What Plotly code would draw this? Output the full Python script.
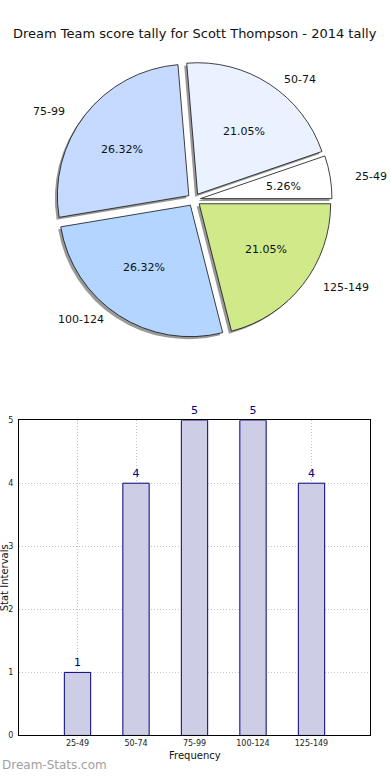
import math
import plotly.graph_objects as go

# ---- data ----
categories = ["25-49", "50-74", "75-99", "100-124", "125-149"]
counts = [1, 4, 5, 5, 4]
pie_colors = ["#ffffff", "#eaf1ff", "#c6d9ff", "#b3d5ff", "#d0ea8a"]
title_text = "Dream Team score tally for Scott Thompson - 2014 tally"

W, H = 390, 780
FONT = "DejaVu Sans"

def px(x):
    return x / W

def py(y):
    return 1 - y / H

fig = go.Figure()

# ---- pie geometry (pixels) ----
cx, cy = 194, 198
r = 133
explode = 0.05
half = r * (1 + explode)
total = sum(counts)
# plotly (counterclockwise): first slice's leading edge sits at `rotation`
rot = 90 - 360.0 * counts[0] / total

def dom(dx=0.0, dy=0.0):
    return dict(x=[px(cx - half + dx), px(cx + half + dx)],
                y=[py(cy + half + dy), py(cy - half + dy)])

# shadow
fig.add_trace(go.Pie(
    labels=categories, values=counts, sort=False, direction="counterclockwise",
    rotation=rot, pull=[explode] * len(counts), domain=dom(-2.5, 2.5),
    marker=dict(colors=["rgba(70,70,70,0.55)"] * len(counts), line=dict(width=0)),
    textinfo="none", hoverinfo="skip", showlegend=False,
))
# main pie
fig.add_trace(go.Pie(
    labels=categories, values=counts, sort=False, direction="counterclockwise",
    rotation=rot, pull=[explode] * len(counts), domain=dom(),
    marker=dict(colors=pie_colors, line=dict(color="#111111", width=0.8)),
    textinfo="none", showlegend=False,
))

# labels & percentages (matplotlib-style placement)
rx, ry = 140, 126
start = 0.0
annotations = [dict(
    x=px(195), y=py(30), xref="paper", yref="paper", text=title_text,
    showarrow=False, xanchor="center", yanchor="middle",
    font=dict(family=FONT, size=13, color="#111111"))]
for lab, v in zip(categories, counts):
    ang = 360.0 * v / total
    mid = math.radians(start + ang / 2)
    c, s = math.cos(mid), math.sin(mid)
    lx = cx + (explode + 1.1) * rx * c
    ly = cy - (explode + 1.1) * ry * s
    annotations.append(dict(
        x=px(lx), y=py(ly), xref="paper", yref="paper", text=lab, showarrow=False,
        xanchor="left" if c > 0 else "right", yanchor="middle",
        font=dict(family=FONT, size=11, color="#111111")))
    tx = cx + (explode + 0.6) * rx * c
    ty = cy - (explode + 0.6) * ry * s
    annotations.append(dict(
        x=px(tx), y=py(ty), xref="paper", yref="paper",
        text="%.2f%%" % (100.0 * v / total), showarrow=False,
        xanchor="center", yanchor="middle",
        font=dict(family=FONT, size=11, color="#111111")))
    start += ang

# ---- bar chart ----
fig.add_trace(go.Bar(
    x=categories, y=counts, width=0.45, xaxis="x", yaxis="y",
    marker=dict(color="#cdcde6", line=dict(color="#000080", width=1)),
    text=counts, textposition="outside", cliponaxis=False,
    textfont=dict(family=FONT, size=11, color="#000080"),
    showlegend=False, hoverinfo="x+y",
))

axis_common = dict(
    showline=True, mirror=True, linecolor="#000000", linewidth=1,
    showgrid=True, gridcolor="#c4c4c4", griddash="1px,2px", gridwidth=1,
    layer="above traces", zeroline=False,
    tickfont=dict(family=FONT, size=8, color="#222222"),
    ticks="", fixedrange=True,
)

annotations += [
    dict(x=px(195), y=py(760), xref="paper", yref="paper", text="Frequency",
         showarrow=False, xanchor="center", yanchor="middle",
         font=dict(family=FONT, size=10, color="#111111")),
    dict(x=px(4), y=py(581), xref="paper", yref="paper", text="Stat Intervals",
         showarrow=False, xanchor="center", yanchor="middle", textangle=-90,
         font=dict(family=FONT, size=10, color="#111111")),
    dict(x=px(0), y=py(770), xref="paper", yref="paper", text="Dream-Stats.com",
         showarrow=False, xanchor="left", yanchor="middle",
         font=dict(family=FONT, size=12, color="#a0a0a0")),
]

fig.update_layout(
    width=W, height=H, margin=dict(l=0, r=0, t=0, b=0),
    paper_bgcolor="white", plot_bgcolor="white",
    font=dict(family=FONT),
    xaxis=dict(domain=[px(19), px(370)], anchor="y", range=[-1, 5], type="category",
               **axis_common),
    yaxis=dict(domain=[py(740), py(421)], anchor="x", range=[0, 5], dtick=1,
               ticklabelstandoff=3, **axis_common),
    annotations=annotations,
    bargap=0,
    hovermode=False,
)

fig.write_html("out.html", config={"displayModeBar": False, "staticPlot": True},
               post_script="document.body.style.margin='0';document.body.style.overflow='hidden';")
